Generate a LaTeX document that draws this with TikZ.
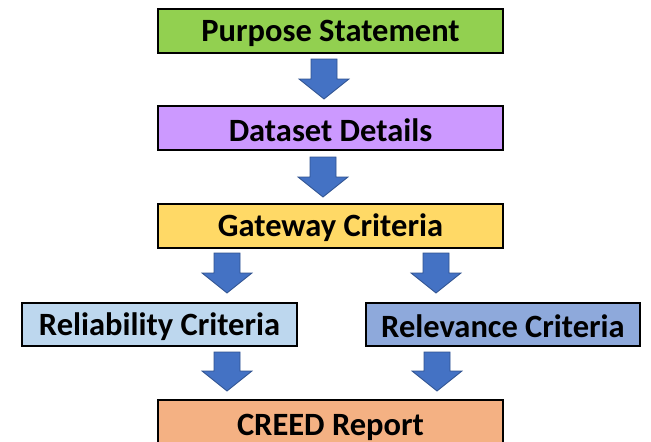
\documentclass[tikz,border=0pt]{standalone}
\usepackage{fontspec}
\setmainfont{Carlito}
\begin{document}
\begin{tikzpicture}[x=1pt,y=-1pt,
  box/.style={draw=black,line width=1.5pt,inner sep=0pt,font=\bfseries\fontsize{32.5}{32.5}\selectfont},
  lbl/.style={draw=none,yshift=-2pt},
  barrow/.style={fill={rgb,255:red,68;green,114;blue,196},draw={rgb,255:red,47;green,82;blue,143},line width=0.8pt,line join=miter}]
\useasboundingbox (0,0) rectangle (651,442);
\definecolor{cgreen}{RGB}{146,208,80}
\definecolor{cpurple}{RGB}{204,153,255}
\definecolor{cyellow}{RGB}{255,217,102}
\definecolor{clblue}{RGB}{189,215,238}
\definecolor{cblue}{RGB}{142,169,219}
\definecolor{corange}{RGB}{244,177,131}
\newcommand{\blockarrow}[3]{% cx, top, tip
  \draw[barrow] (#1-13,#2) -- (#1+13,#2) -- (#1+13,#3-20) -- (#1+25,#3-20) -- (#1,#3) -- (#1-25,#3-20) -- (#1-13,#3-20) -- cycle;}
\draw[box,fill=cgreen] (158,9) rectangle (503,53) node[midway,lbl] (p) {Purpose Statement};
\draw[box,fill=cpurple] (158,106) rectangle (503,150) node[midway,lbl] (d) {Dataset Details};
\draw[box,fill=cyellow] (158,204) rectangle (503,248) node[midway,lbl] (g) {Gateway Criteria};
\draw[box,fill=clblue] (22,303) rectangle (297,346) node[midway,lbl] (rl) {Reliability Criteria};
\draw[box,fill=cblue] (366,303) rectangle (640,346) node[midway,lbl] (rv) {Relevance Criteria};
\draw[box,fill=corange] (158,400) rectangle (503,446) node[midway,lbl,yshift=-2pt] (c) {CREED Report};
\blockarrow{324}{59}{99}
\blockarrow{323}{157}{197}
\blockarrow{227}{253}{293}
\blockarrow{436}{253}{293}
\blockarrow{227}{352}{391}
\blockarrow{437}{352}{391}
\end{tikzpicture}
\end{document}
